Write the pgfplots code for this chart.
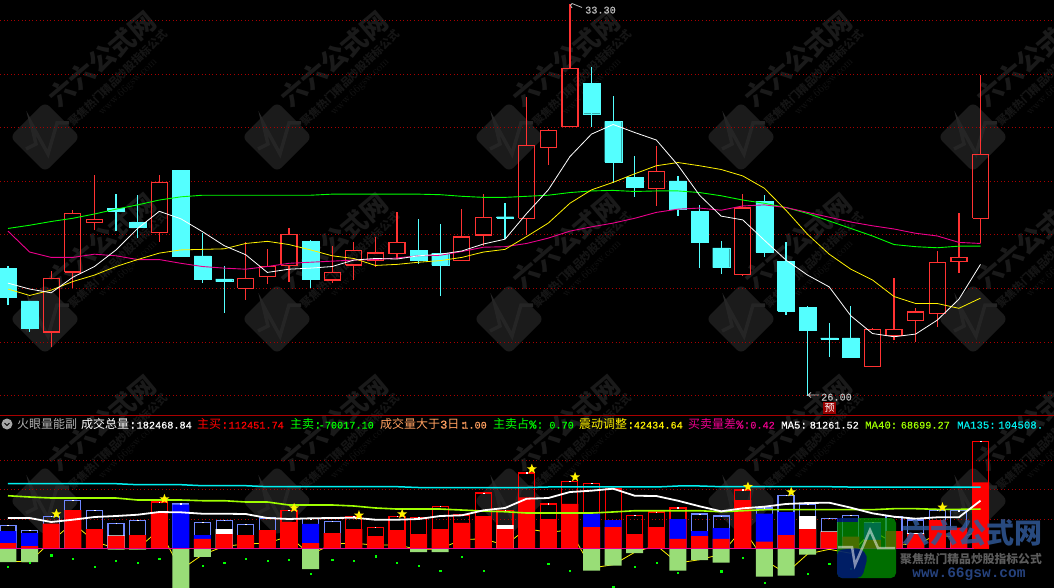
\documentclass[border=0pt]{standalone}
\usepackage{fontspec}
\usepackage{pgfplots}
\usepackage{pgfplotstable}
\pgfplotsset{compat=1.18}
\newfontfamily\cjk{Noto Sans CJK SC}
\newfontfamily\mono[FakeBold=0.3]{Liberation Mono}
\newfontfamily\monob{Liberation Mono}
\definecolor{upc}{HTML}{FF3232}
\definecolor{dnc}{HTML}{54FFFF}
\definecolor{gridc}{HTML}{A80000}
\definecolor{periw}{HTML}{7088FF}
\definecolor{sellc}{HTML}{99DD77}
\definecolor{lime}{HTML}{A0FF00}
\definecolor{cyanl}{HTML}{00F0F0}
\definecolor{orng}{HTML}{FFA060}
\definecolor{wm}{HTML}{1A1A1A}
\definecolor{wmt}{HTML}{151515}
\definecolor{wmb}{HTML}{1B1B1B}
\definecolor{wmz}{HTML}{252525}
\pgfdeclareplotmark{fstar}{%
 \pgfpathmoveto{\pgfpointpolar{90}{\pgfplotmarksize}}%
 \pgfpathlineto{\pgfpointpolar{126}{0.42\pgfplotmarksize}}%
 \pgfpathlineto{\pgfpointpolar{162}{\pgfplotmarksize}}%
 \pgfpathlineto{\pgfpointpolar{198}{0.42\pgfplotmarksize}}%
 \pgfpathlineto{\pgfpointpolar{234}{\pgfplotmarksize}}%
 \pgfpathlineto{\pgfpointpolar{270}{0.42\pgfplotmarksize}}%
 \pgfpathlineto{\pgfpointpolar{306}{\pgfplotmarksize}}%
 \pgfpathlineto{\pgfpointpolar{342}{0.42\pgfplotmarksize}}%
 \pgfpathlineto{\pgfpointpolar{18}{\pgfplotmarksize}}%
 \pgfpathlineto{\pgfpointpolar{54}{0.42\pgfplotmarksize}}%
 \pgfpathclose\pgfusepathqfill}
% candle macros: index, low, bottom of body, top of body, high
\newcommand\ru[5]{%
 \pgfmathsetmacro\xa{#1-0.37}\pgfmathsetmacro\xb{#1+0.37}%
 \addplot[upc,line width=1.25pt] coordinates {(#1,#2)(#1,#3)};
 \addplot[upc,line width=1.25pt] coordinates {(#1,#4)(#1,#5)};
 \addplot[upc,line width=1.25pt,line join=miter] coordinates {(\xa,#3)(\xb,#3)(\xb,#4)(\xa,#4)(\xa,#3)};
}
\newcommand\cd[5]{%
 \pgfmathsetmacro\xa{#1-0.393}\pgfmathsetmacro\xb{#1+0.393}%
 \addplot[dnc,line width=1.2pt] coordinates {(#1,#2)(#1,#5)};
 \addplot[dnc,fill=dnc,line width=0.2pt] coordinates {(\xa,#3)(\xb,#3)(\xb,#4)(\xa,#4)(\xa,#3)};
}
\pgfplotstableread{
i white yellow magenta green
0 28.10 27.99 29.07 29.12
1 27.99 27.87 28.68 29.18
2 27.92 27.97 28.58 29.25
3 28.21 28.13 28.58 29.31
4 28.41 28.25 28.64 29.39
5 28.72 28.41 28.61 29.48
6 29.12 28.54 28.54 29.56
7 29.44 28.66 28.54 29.65
8 29.30 28.72 28.47 29.71
9 29.06 28.73 28.41 29.74
10 28.80 28.74 28.38 29.74
11 28.63 28.84 28.36 29.74
12 28.30 28.88 28.41 29.74
13 28.36 28.82 28.47 29.74
14 28.38 28.72 28.49 29.74
15 28.41 28.61 28.51 29.76
16 28.53 28.56 28.53 29.76
17 28.56 28.43 28.54 29.76
18 28.55 28.45 28.57 29.76
19 28.61 28.49 28.61 29.76
20 28.64 28.52 28.62 29.75
21 28.70 28.58 28.69 29.72
22 28.83 28.68 28.77 29.70
23 28.92 28.73 28.78 29.70
24 29.40 28.97 28.84 29.72
25 29.84 29.22 28.94 29.74
26 30.46 29.59 29.07 29.79
27 30.88 29.84 29.15 29.82
28 31.06 29.98 29.22 29.83
29 30.91 30.14 29.31 29.81
30 30.77 30.29 29.42 29.82
31 30.30 30.35 29.48 29.82
32 29.74 30.29 29.50 29.79
33 29.35 30.22 29.46 29.73
34 29.28 30.10 29.54 29.65
35 28.90 29.87 29.56 29.59
36 28.53 29.46 29.51 29.51
37 28.25 29.01 29.42 29.40
38 28.03 28.64 29.33 29.26
39 27.49 28.36 29.24 29.12
40 27.16 28.16 29.17 28.98
41 27.10 27.85 29.11 28.82
42 27.15 27.72 29.03 28.78
43 27.41 27.72 28.98 28.76
44 27.80 27.63 28.86 28.79
45 28.45 27.82 28.84 28.79
}\uplines
\pgfplotstableread{
i ma5 ma40 ma135 vib
0 51.7 89.7 110.2 -22.2
1 51.7 87.5 110.2 -22.9
2 44.9 85.8 110.2 11.9
3 48.8 85.8 110.2 43.2
4 53.4 85.8 110.2 11.9
5 55.1 85.8 110.2 -0.7
6 57.3 82.4 108.5 -0.7
7 61.9 82.4 108.5 31.7
8 61.4 82.4 108.5 -36.5
9 59.0 81.2 106.8 -10.9
10 59.0 81.2 106.8 3.4
11 58.5 79.0 106.8 7.3
12 51.7 79.0 105.1 9.0
13 50.0 73.9 105.1 20.5
14 51.2 73.9 105.1 -10.9
15 51.7 73.9 105.1 7.3
16 52.2 72.2 105.1 9.0
17 48.8 68.8 105.1 5.1
18 48.8 67.0 105.1 6.1
19 50.0 67.0 103.7 -2.4
20 55.1 67.0 103.7 -0.7
21 56.3 65.3 103.7 14.7
22 64.8 63.6 103.7 16.4
23 68.8 62.4 103.7 5.1
24 84.6 60.2 103.7 33.4
25 85.8 60.2 104.6 27.3
26 96.0 60.2 104.6 31.2
27 98.3 60.2 104.6 -33.6
28 101.7 62.0 104.6 -28.0
29 89.7 64.1 104.6 -6.8
30 89.2 64.1 104.6 5.1
31 81.2 64.1 106.3 -25.1
32 71.7 64.1 106.3 -19.4
33 63.1 62.4 105.1 -10.2
34 68.2 64.1 105.1 34.1
35 71.0 65.9 105.1 -20.0
36 75.6 65.9 105.1 -42.7
37 77.3 65.9 105.1 -9.7
38 77.8 65.9 105.1 -1.7
39 69.3 65.9 104.5 -8.5
40 59.7 65.9 104.5 30.0
41 53.9 67.6 104.5 8.5
42 50.5 67.6 104.5 5.1
43 52.9 66.5 104.5 23.9
44 52.9 66.5 104.5 17.1
45 81.3 67.0 104.5 30.0
}\lowlines
\pgfplotstableread{
i total
0 39.2
1 30.7
2 54.6
3 81.9
4 64.8
5 42.7
6 47.8
8 75.6
9 44.4
10 47.8
11 40.9
12 51.7
14 50.5
15 46.1
32 58.5
33 55.1
35 68.8
36 90.4
37 75.1
38 51.2
39 56.3
40 44.4
41 53.9
42 48.3
43 65.3
44 64.1
}\framesB
\pgfplotstableread{
i total
7 79.0
13 64.8
16 54.6
17 35.8
18 54.6
19 52.9
20 71.7
21 56.8
22 94.3
23 64.8
24 128.5
25 75.6
26 114.3
27 110.9
28 101.2
29 56.3
30 61.9
31 68.8
34 99.5
45 182.5
}\framesR
\pgfplotstableread{
i buy
0 9.0
1 3.9
2 42.0
3 65.3
4 32.9
5 21.0
6 22.7
7 60.2
9 15.9
10 24.4
11 22.7
12 31.2
13 44.9
14 9.0
15 26.1
16 32.9
17 21.0
18 31.2
19 24.4
20 32.9
21 43.2
22 55.1
23 32.9
24 87.0
25 50.0
26 75.6
27 36.3
28 36.3
29 24.4
30 36.3
31 15.9
32 21.0
33 15.9
34 82.4
35 11.3
36 22.7
37 32.9
38 27.8
39 19.8
40 14.2
41 29.5
42 24.4
43 48.3
44 35.1
45 112.5
}\buys
\pgfplotstableread{
i v
0 29.5
1 26.1
8 74.4
9 22.7
14 41.5
27 59.0
28 48.3
31 50.0
32 29.5
33 34.6
35 59.0
36 61.9
40 43.2
}\blues
\pgfplotstableread{
i v
5 22.2
10 32.9
23 39.7
37 55.1
38 28.7
42 26.1
}\whites
\pgfplotstableread{
i sell
0 -23.4
1 -23.4
5 -2.4
6 -2.4
8 -70.0
9 -14.8
14 -35.3
19 -6.3
20 -6.3
23 -1.5
27 -38.2
28 -29.7
29 -8.0
31 -38.2
32 -20.0
33 -24.6
35 -48.5
36 -46.7
37 -10.9
}\sells
\pgfplotstableread{
i d
0 -30.7
1 -25.1
2 -11.9
3 -17.1
4 -30.7
5 -20.5
6 -23.9
7 -17.1
9 -29.0
10 -23.9
11 -17.1
12 -20.5
13 -18.8
14 -42.7
15 -18.8
16 -20.5
17 -13.6
18 -23.9
19 -29.0
20 -37.5
21 -14.0
22 -37.5
25 -25.6
26 -37.5
28 -64.8
29 -30.7
30 -23.9
31 -42.1
33 -39.2
34 -15.4
35 -58.7
37 -42.7
38 -25.6
39 -34.1
}\dots
\pgfplotstableread{
x v
2.24 58.5
7.24 84.1
13.24 68.8
16.24 56.3
18.24 58.5
24.24 135.3
26.24 121.6
34.24 105.1
36.24 96.0
43.24 69.9
}\stars
\pgfplotsset{panel/.style={
  scale only axis,width=1054pt,xmin=-0.370,xmax=48.403,
  axis line style={draw=none},tick style={draw=none},
  xtick=\empty,yticklabels={},
  ymajorgrids,major grid style={gridc,line width=0.8pt,dash pattern=on 1pt off 2.6pt},
  axis background/.style={fill=none}}}
\newcommand\lab[4]{\node[anchor=base west,inner sep=0,text=#2] at (#1,428.6) {\fontsize{12}{12}\selectfont #3};}
\newcommand\val[3]{\node[anchor=base east,inner sep=0,text=#2] at (#1,428.6) {\fontsize{10.2}{12}\selectfont\mono #3};}
\begin{document}
\begin{tikzpicture}
\useasboundingbox (0,0) rectangle (1054pt,-588pt);
\fill[black] (0,0) rectangle (1054pt,-588pt);
\clip (0,0) rectangle (1054pt,-588pt);
% watermark tiles
\begin{scope}[x=1pt,y=-1pt]
\foreach \cx in {45,277,509,741,973}{\foreach \cy in {137,319,501}{
 \begin{scope}[shift={(\cx,\cy)}]
  \fill[wmb,rounded corners=6pt] (0,-35)--(35,0)--(0,35)--(-35,0)--cycle;
  \draw[wmz,line width=3.5pt,line join=miter] (-19,12)--(-9,7)--(-14,-14)--(3,17)--(12,-14)--(24,-14);
  \node[rotate=40,text=wm,inner sep=0] at (57,-78) {\fontsize{26}{26}\selectfont\cjk\bfseries 六六公式网};
  \node[rotate=44,text=wmt,inner sep=0] at (73,-59) {\fontsize{11}{11}\selectfont\cjk\bfseries 聚焦热门精品炒股指标公式};
  \node[rotate=44,text=wmt,inner sep=0] at (83,-50) {\fontsize{11}{11}\selectfont www.66gsw.com};
 \end{scope}}}
\end{scope}
% price panel
\begin{axis}[panel,at={(0pt,0pt)},anchor=north west,height=415pt,
  ymin=25.640,ymax=33.382,ytick={26,27,28,29,30,31,32,33}]
\cd{0}{27.69}{27.84}{28.38}{28.42}
\cd{1}{27.19}{27.26}{27.77}{27.77}
\ru{2}{26.90}{27.19}{28.19}{28.33}
\ru{3}{28.00}{28.31}{29.40}{29.46}
\ru{4}{29.09}{29.23}{29.29}{30.12}
\cd{5}{29.07}{29.45}{29.50}{29.76}
\cd{6}{28.95}{29.15}{29.24}{29.74}
\ru{7}{28.87}{29.04}{29.98}{30.12}
\cd{8}{28.61}{28.61}{30.21}{30.21}
\cd{9}{28.11}{28.18}{28.61}{29.04}
\cd{10}{27.55}{28.13}{28.18}{28.42}
\ru{11}{27.79}{28.00}{28.19}{28.86}
\ru{12}{28.08}{28.22}{28.41}{28.73}
\ru{13}{28.13}{28.43}{29.01}{29.12}
\cd{14}{28.01}{28.18}{28.88}{28.90}
\ru{15}{28.11}{28.16}{28.30}{28.79}
\ru{16}{28.16}{28.44}{28.71}{28.87}
\ru{17}{28.40}{28.52}{28.66}{28.96}
\ru{18}{28.55}{28.65}{28.86}{29.43}
\cd{19}{28.46}{28.53}{28.71}{29.29}
\cd{20}{27.86}{28.44}{28.66}{29.20}
\ru{21}{28.52}{28.52}{28.96}{29.48}
\ru{22}{28.80}{29.00}{29.33}{29.76}
\cd{23}{28.92}{29.32}{29.34}{29.60}
\ru{24}{28.99}{29.31}{30.67}{31.57}
\ru{25}{30.30}{30.63}{30.95}{30.97}
\ru{26}{31.02}{31.02}{32.11}{33.30}
\cd{27}{31.02}{31.26}{31.83}{32.13}
\cd{28}{29.97}{30.36}{31.12}{31.59}
\cd{29}{29.71}{29.89}{30.08}{30.47}
\ru{30}{29.54}{29.87}{30.18}{30.66}
\cd{31}{29.36}{29.48}{30.01}{30.10}
\cd{32}{28.39}{28.87}{29.44}{29.56}
\cd{33}{28.27}{28.39}{28.76}{28.89}
\ru{34}{28.24}{28.26}{29.50}{29.76}
\cd{35}{28.59}{28.68}{29.63}{29.74}
\cd{36}{27.51}{27.58}{28.51}{28.86}
\cd{37}{26.00}{27.23}{27.65}{27.67}
\cd{38}{26.73}{27.06}{27.08}{27.36}
\cd{39}{26.72}{26.72}{27.08}{27.67}
\ru{40}{26.54}{26.54}{27.24}{27.26}
\ru{41}{27.03}{27.13}{27.24}{28.19}
\ru{42}{27.01}{27.40}{27.56}{27.63}
\ru{43}{27.29}{27.54}{28.49}{28.70}
\ru{44}{28.29}{28.50}{28.58}{29.40}
\ru{45}{28.84}{29.31}{30.50}{31.99}
\addplot[green,line width=0.9pt] table[x=i,y=green] {\uplines};
\addplot[magenta,line width=0.9pt] table[x=i,y=magenta] {\uplines};
\addplot[yellow,line width=0.8pt] table[x=i,y=yellow] {\uplines};
\addplot[white,line width=0.8pt] table[x=i,y=white] {\uplines};
\end{axis}
% volume panel
\begin{axis}[panel,at={(0pt,-415pt)},anchor=north west,height=173pt,
  ymin=-67.7,ymax=227.4,ytick={50,100,150}]
\addplot[yellow,line width=0.8pt] table[x=i,y=vib] {\lowlines};
\addplot[ybar,bar shift=0pt,bar width=17pt,fill=sellc,draw=none] table[x=i,y=sell] {\sells};
\addplot[ybar,bar shift=0pt,bar width=16pt,fill=none,draw=periw,line width=1.15pt] table[x=i,y=total] {\framesB};
\addplot[ybar,bar shift=0pt,bar width=16pt,fill=none,draw=red,line width=1.15pt] table[x=i,y=total] {\framesR};
\addplot[ybar,bar shift=0pt,bar width=17pt,fill=blue,draw=none] table[x=i,y=v] {\blues};
\addplot[ybar,bar shift=0pt,bar width=17pt,fill=white,draw=none] table[x=i,y=v] {\whites};
\addplot[ybar,bar shift=0pt,bar width=17pt,fill=red,draw=none] table[x=i,y=buy] {\buys};
\addplot[magenta,line width=1pt] coordinates {(-0.37,0)(44.7,0)};
\addplot[only marks,mark=square*,mark size=0.6pt,color=green] table[x=i,y=d] {\dots};
\addplot[only marks,mark=square*,mark size=0.3pt,color=white] table[x=i,y=total] {\framesB};
\addplot[only marks,mark=square*,mark size=0.3pt,color=white] table[x=i,y=total] {\framesR};
\addplot[cyanl,line width=1.5pt] table[x=i,y=ma135] {\lowlines};
\addplot[lime,line width=1.6pt] table[x=i,y=ma40] {\lowlines};
\addplot[white,line width=1.8pt] table[x=i,y=ma5] {\lowlines};
\addplot[only marks,mark=fstar,mark size=5.2pt,color=yellow] table[x=x,y=v] {\stars};
\end{axis}
% header and annotations
\begin{scope}[x=1pt,y=-1pt]
\draw[gridc,line width=1pt] (0,415.2)--(1054,415.2);
\fill[gray!70] (7,424) circle (5.5);
\draw[black,line width=1pt] (4.5,423)--(7,425.5)--(9.5,423);
\lab{17}{gray!60!white}{\cjk 火眼量能副}{}
\lab{81}{white}{\cjk 成交总量{\mono :}}{}
\val{192}{white}{182468.84}
\lab{197}{red}{\cjk 主买{\mono :}}{}
\val{284}{red}{112451.74}
\lab{290}{green}{\cjk 主卖{\mono :}}{}
\val{374}{green}{-70017.10}
\lab{380}{orng}{\cjk 成交量大于{\mono 3}日{\mono :}}{}
\val{487}{orng}{1.00}
\lab{493}{green}{\cjk 主卖占{\mono \%:}}{}
\val{574}{green}{0.70}
\lab{579}{yellow}{\cjk 震动调整{\mono :}}{}
\val{683}{yellow}{42434.64}
\lab{688}{magenta}{\cjk 买卖量差{\mono \%:}}{}
\val{775}{magenta}{0.42}
\node[anchor=base west,inner sep=0,text=white] at (781,428.6) {\fontsize{10.7}{12}\selectfont\mono MA5:};
\val{859}{white}{81261.52}
\node[anchor=base west,inner sep=0,text=lime] at (865,428.6) {\fontsize{10.7}{12}\selectfont\mono MA40:};
\val{950}{lime}{68699.27}
\node[anchor=base west,inner sep=0,text=cyanl] at (957,428.6) {\fontsize{10.7}{12}\selectfont\mono MA135:};
\node[anchor=base west,inner sep=0,text=cyanl] at (998,428.6) {\fontsize{10.7}{12}\selectfont\mono 104508.};
% extreme labels
\draw[gray!50!white,line width=0.8pt] (572,8)--(570.5,5.5)--(572,3.5)--(582,7.5);
\node[anchor=base west,inner sep=0,text=gray!50!white] at (585,13.5) {\fontsize{10.2}{12}\selectfont\mono 33.30};
\draw[gray!50!white,line width=0.8pt] (811,392.5)--(808,395)--(811,397.5) (808,395)--(819,395);
\node[anchor=base west,inner sep=0,text=gray!50!white] at (821,400.5) {\fontsize{10.2}{12}\selectfont\mono 26.00};
\fill[red!60!black] (823,402) rectangle (836,413.5);
\node[inner sep=0,text=white] at (829.5,407.8) {\fontsize{10}{10}\selectfont\cjk 预};
% site logo
\begin{scope}[opacity=0.72]
 \fill[green!60!black,rounded corners=5pt] (837,518) rectangle (896,578);
 \fill[blue!55!black,rounded corners=5pt] (837,550)--(837,578)--(862,578)--(868,556)--(860,548)--cycle;
 \fill[blue!55!black] (836.5,518)--(858,518)--(858,522)--(836.5,522)--cycle;
\end{scope}
\draw[white,opacity=0.5,line width=2.5pt,line join=miter] (838,547)--(852,547)--(855,565)--(870,530)--(878,548)--(895,548);
\node[inner sep=0,text={rgb,255:red,48;green,88;blue,150},opacity=0.85] at (972,533) {\fontsize{28}{28}\selectfont\cjk\bfseries 六六公式网};
\node[inner sep=0,text={rgb,255:red,92;green,92;blue,92}] at (971,558.5) {\fontsize{11.8}{12}\selectfont\cjk\bfseries 聚焦热门精品炒股指标公式};
\node[inner sep=0,text={rgb,255:red,38;green,66;blue,125}] at (969,574) {\fontsize{14.5}{12}\selectfont\monob\bfseries www.66gsw.com};
\end{scope}
\end{tikzpicture}
\end{document}
